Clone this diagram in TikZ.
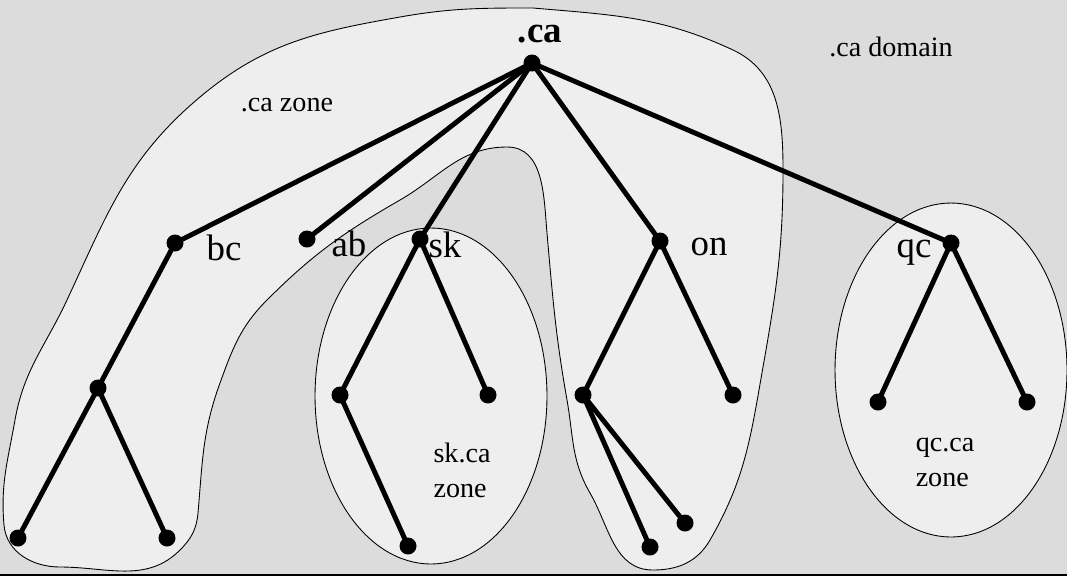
\documentclass[tikz,border=0pt]{standalone}
\usepackage{fontspec}
\setmainfont{Liberation Serif}
\usetikzlibrary{positioning}
\definecolor{domaingray}{gray}{0.863}
\definecolor{zonegray}{gray}{0.933}
\tikzset{
    dot/.style={circle,fill,inner sep=0pt,minimum size=0.34cm},
    branch/.style={line width=2.8pt},
    zone/.style={fill=zonegray,draw,line width=0.5pt},
    lab/.style={font=\fontsize{21}{25}\selectfont,inner sep=0pt},
    note/.style={font=\fontsize{16}{19.8}\selectfont,inner sep=0pt,align=left},
}
\begin{document}
\begin{tikzpicture}[x=0.02cm,y=-0.02cm]
            \useasboundingbox (0,0) rectangle (1067,576);
            \fill[domaingray] (0,0) rectangle (1067,576);
            \draw[line width=1.1pt] (0,575) -- (1067,575);

            % .ca zone
            \draw[zone] (533,8)
                to[out=-5,in=155] (733,50)
                to[out=-25,in=90] (783,170)
                to[out=-90,in=80] (763,367)
                to[out=-100,in=60] (710,540)
                to[out=-120,in=0] (653,570)
                to[out=180,in=-60] (590,493)
                to[out=120,in=-80] (567,400)
                to[out=100,in=-85] (547,233)
                to[out=95,in=0] (507,147)
                to[out=180,in=30] (400,200)
                to[out=-150,in=45] (267,300)
                to[out=-135,in=70] (220,383)
                to[out=-110,in=85] (198,513)
                to[out=-95,in=45] (180,550)
                to[out=-135,in=0] (60,567)
                to[out=180,in=-85] (4,525)
                to[out=95,in=-100] (15,420)
                to[out=80,in=-115] (67,300)
                to[out=65,in=-140] (200,97)
                to[out=40,in=-170] (400,17)
                to[out=10,in=180] cycle
            ;
            % sk.ca and qc.ca zones
            \draw[zone] (431,396) ellipse [x radius=2.32cm, y radius=3.36cm];
            \draw[zone] (951,370) ellipse [x radius=2.32cm, y radius=3.34cm];

            % tree
            \node[dot] (ca) at (532,63) {};
            \node[dot] (bc) at (175,243) {};
            \node[dot] (ab) at (307,239) {};
            \node[dot] (sk) at (420,239) {};
            \node[dot] (on) at (660,241) {};
            \node[dot] (qc) at (951,243) {};
            \node[dot] (bc1) at (98,388) {};
            \node[dot] (bc11) at (18,538) {};
            \node[dot] (bc12) at (167,538) {};
            \node[dot] (sk1) at (340,395) {};
            \node[dot] (sk2) at (488,395) {};
            \node[dot] (sk11) at (408,546) {};
            \node[dot] (on1) at (583,395) {};
            \node[dot] (on2) at (733,395) {};
            \node[dot] (on11) at (650,547) {};
            \node[dot] (on12) at (685,523) {};
            \node[dot] (qc1) at (878,402) {};
            \node[dot] (qc2) at (1027,402) {};

            \draw[branch] (ca.center) -- (bc.center) -- (bc1.center) -- (bc11.center);
            \draw[branch] (bc1.center) -- (bc12.center);
            \draw[branch] (ca.center) -- (ab.center);
            \draw[branch] (ca.center) -- (sk.center) -- (sk1.center) -- (sk11.center);
            \draw[branch] (sk.center) -- (sk2.center);
            \draw[branch] (ca.center) -- (on.center) -- (on1.center) -- (on11.center);
            \draw[branch] (on.center) -- (on2.center);
            \draw[branch] (on1.center) -- (on12.center);
            \draw[branch] (ca.center) -- (qc.center) -- (qc1.center);
            \draw[branch] (qc.center) -- (qc2.center);

            % labels
            \node[lab,font=\fontsize{21}{25}\selectfont\bfseries] (calab) at (540,34) {.ca};
            \node[lab] (bclab) at (224,248) {bc};
            \node[lab] (ablab) at (349,244) {ab};
            \node[lab] (sklab) at (445,245) {sk};
            \node[lab] (onlab) at (709,247) {on};
            \node[lab] (qclab) at (914,253) {qc};
            \node[note] (cazone) at (287,105) {.ca zone};
            \node[note] (cadomain) at (891,47) {.ca domain};
            \node[note] (skzone) at (462,470) {sk.ca\\zone};
            \node[note] (qczone) at (945,462) {qc.ca\\zone};
\end{tikzpicture}
\end{document}
